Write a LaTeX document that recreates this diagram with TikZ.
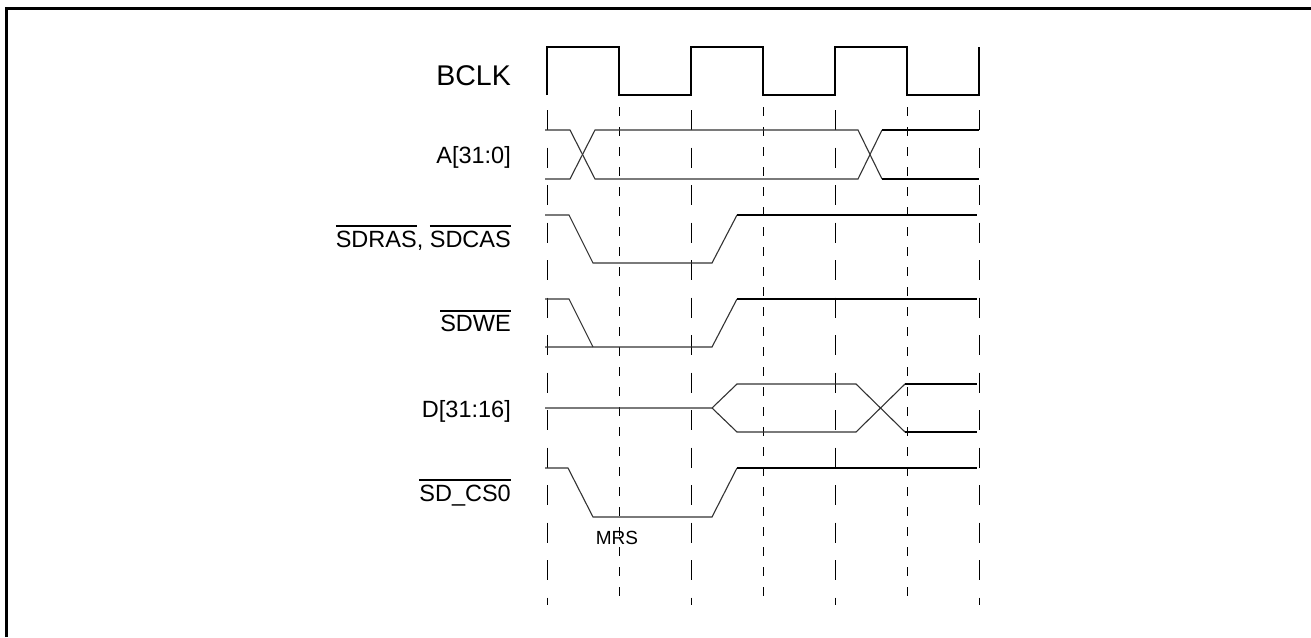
\documentclass[tikz,border=0pt]{standalone}
\usepackage{fontspec}
\setmainfont{Liberation Sans}
\newcommand{\ovbar}[1]{\leavevmode\vbox{\hrule height 1.6pt\kern 3.5pt\hbox{#1}}}
\begin{document}
\begin{tikzpicture}[
       x=1pt, y=-1pt,
       old/.style={
         line width=1.1pt,
         black!80
       },
       new/.style={
         line width=2.2pt
       },
       clk/.style={
         line width=2.4pt,
         line join=miter
       },
       rise/.style={
         line width=1pt,
         dash pattern=on 20pt off 17.5pt
       },
       fall/.style={
         line width=1pt,
         dash pattern=on 9pt off 11pt
       },
       lbl/.style={
         anchor=base east,
         inner sep=0pt,
         font=\fontsize{23.5}{28}\selectfont
       }
     ]

       \useasboundingbox (0,0) rectangle (1311,637);
       \draw[line width=3pt] (6.5,637) -- (6.5,8.5) -- (1311,8.5);

       \node (bclk) at (511,85) [lbl,font=\fontsize{28.5}{34}\selectfont]{BCLK};
       \node (addr) at (511,163.5) [lbl]{A[31:0]};
       \node (ras) at (511,247) [lbl]{\ovbar{SDRAS}, \ovbar{SDCAS}};
       \node (we) at (511,331.5) [lbl]{\ovbar{SDWE}};
       \node (data) at (511,417) [lbl]{D[31:16]};
       \node (cs) at (511,501) [lbl]{\ovbar{SD\_CS0}};
       \node (mrs) at (617,544) [anchor=base,inner sep=0pt,font=\fontsize{19}{23}\selectfont]{MRS};

       \draw[rise] (547,110) -- (547,605);
       \draw[rise] (691,110) -- (691,605);
       \draw[rise] (835,110) -- (835,605);
       \draw[rise] (979,110) -- (979,605);
       \draw[fall] (619,107) -- (619,605);
       \draw[fall] (763,107) -- (763,605);
       \draw[fall] (907,107) -- (907,605);

       \draw[clk] (547,95) -- (547,47) -- (619,47) -- (619,95) -- (691,95)
         -- (691,47) -- (763,47) -- (763,95) -- (835,95) -- (835,47)
         -- (907,47) -- (907,95) -- (979,95) -- (979,47);

       \draw[old] (545,130) -- (570,130) -- (595,179) -- (858,179) -- (882,130);
       \draw[old] (545,179) -- (570,179) -- (595,130) -- (858,130) -- (882,179);
       \draw[new] (882,130) -- (979,130);
       \draw[new] (882,179) -- (979,179);

       \draw[old] (545,215) -- (569,215) -- (593,263) -- (712,263) -- (737,215);
       \draw[new] (737,215) -- (977,215);

       \draw[old] (545,299) -- (569,299) -- (593,347);
       \draw[old] (545,347) -- (712,347) -- (737,299);
       \draw[new] (737,299) -- (977,299);

       \draw[old] (545,408) -- (712,408) -- (737,384) -- (856,384) -- (905,432);
       \draw[old] (712,408) -- (737,432) -- (856,432) -- (905,384);
       \draw[new] (905,384) -- (977,384);
       \draw[new] (905,432) -- (977,432);

       \draw[old] (545,468) -- (568,468) -- (593,517) -- (712,517) -- (737,468);
       \draw[new] (737,468) -- (977,468);

\end{tikzpicture}
\end{document}
